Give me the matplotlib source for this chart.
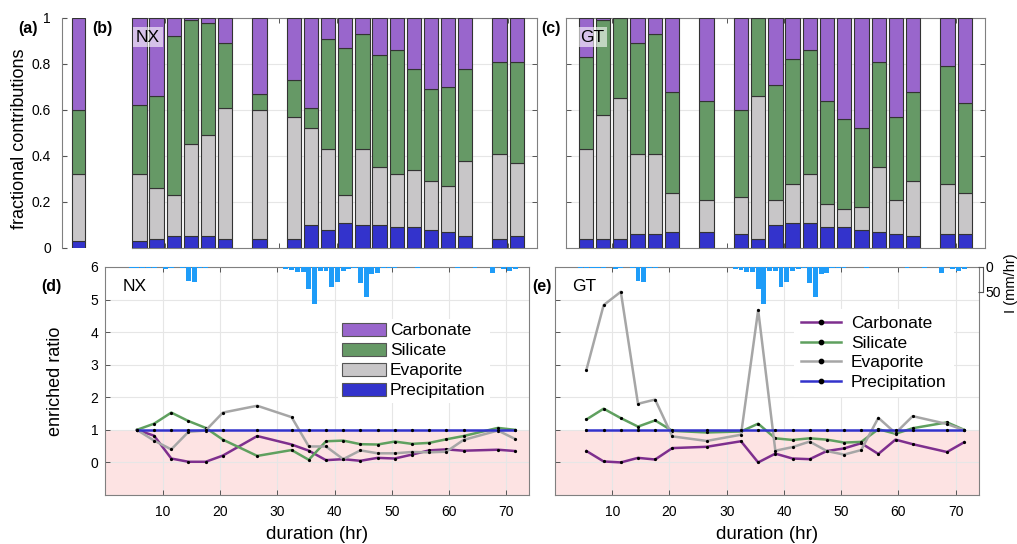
import matplotlib
matplotlib.use("Agg")
import matplotlib.pyplot as plt
import numpy as np
from matplotlib.patches import Patch

plt.rcParams['font.family'] = ['Liberation Sans', 'DejaVu Sans']

# ---------------- data ----------------
duration = [5.5, 8.5, 11.5, 14.5, 17.5, 20.5, 26.5, 32.5, 35.5, 38.5, 41.5,
            44.5, 47.5, 50.5, 53.5, 56.5, 59.5, 62.5, 68.5, 71.5]

# panel (a): single reference composition
a_prec, a_evap, a_sil, a_carb = 0.03, 0.29, 0.28, 0.40

# panel (b) NX fractional contributions
nx_prec = [0.03, 0.04, 0.05, 0.05, 0.05, 0.04, 0.04, 0.04, 0.10, 0.08, 0.11, 0.10, 0.10, 0.09, 0.09, 0.08, 0.07, 0.05, 0.04, 0.05]
nx_evap = [0.29, 0.22, 0.18, 0.40, 0.44, 0.57, 0.56, 0.53, 0.42, 0.35, 0.12, 0.33, 0.25, 0.23, 0.25, 0.21, 0.20, 0.33, 0.37, 0.32]
nx_sil = [0.30, 0.40, 0.69, 0.54, 0.49, 0.28, 0.07, 0.16, 0.09, 0.48, 0.64, 0.50, 0.49, 0.54, 0.44, 0.40, 0.43, 0.40, 0.40, 0.44]
nx_carb = [0.38, 0.34, 0.08, 0.01, 0.02, 0.11, 0.33, 0.27, 0.39, 0.09, 0.13, 0.07, 0.16, 0.14, 0.22, 0.31, 0.30, 0.22, 0.19, 0.19]

# panel (c) GT fractional contributions
gt_prec = [0.04, 0.04, 0.04, 0.06, 0.06, 0.07, 0.07, 0.06, 0.04, 0.10, 0.11, 0.11, 0.09, 0.09, 0.08, 0.07, 0.06, 0.05, 0.06, 0.06]
gt_evap = [0.39, 0.54, 0.61, 0.35, 0.35, 0.17, 0.14, 0.16, 0.62, 0.11, 0.17, 0.21, 0.10, 0.08, 0.10, 0.28, 0.15, 0.24, 0.22, 0.18]
gt_sil = [0.40, 0.41, 0.35, 0.48, 0.52, 0.44, 0.43, 0.38, 0.34, 0.50, 0.54, 0.54, 0.45, 0.39, 0.34, 0.46, 0.36, 0.39, 0.51, 0.39]
gt_carb = [0.17, 0.01, 0.00, 0.11, 0.07, 0.32, 0.36, 0.40, 0.00, 0.29, 0.18, 0.14, 0.36, 0.44, 0.48, 0.19, 0.43, 0.32, 0.21, 0.37]

# panel (d) NX enriched ratios
nx_r_carb = [1.00, 0.82, 0.12, 0.02, 0.02, 0.21, 0.81, 0.55, 0.36, 0.07, 0.10, 0.05, 0.14, 0.12, 0.24, 0.37, 0.40, 0.36, 0.39, 0.35]
nx_r_sil = [1.00, 1.19, 1.53, 1.27, 1.06, 0.70, 0.20, 0.38, 0.08, 0.65, 0.67, 0.56, 0.55, 0.64, 0.57, 0.60, 0.71, 0.81, 1.06, 1.00]
nx_r_evap = [1.00, 0.67, 0.40, 0.94, 0.98, 1.53, 1.74, 1.39, 0.49, 0.49, 0.10, 0.37, 0.28, 0.28, 0.32, 0.31, 0.33, 0.69, 0.98, 0.72]
nx_r_prec = [1.00] * 20

# panel (e) GT enriched ratios
gt_r_carb = [0.35, 0.03, 0.00, 0.14, 0.09, 0.44, 0.48, 0.65, 0.00, 0.27, 0.12, 0.10, 0.35, 0.43, 0.59, 0.26, 0.70, 0.56, 0.32, 0.62]
gt_r_sil = [1.32, 1.65, 1.36, 1.10, 1.29, 0.97, 0.92, 0.95, 1.19, 0.74, 0.69, 0.74, 0.70, 0.61, 0.63, 1.02, 0.88, 1.05, 1.23, 1.00]
gt_r_evap = [2.85, 4.83, 5.24, 1.80, 1.93, 0.80, 0.66, 0.85, 4.68, 0.36, 0.47, 0.64, 0.35, 0.24, 0.38, 1.37, 0.90, 1.42, 1.18, 0.99]
gt_r_prec = [1.00] * 20

# hourly rainfall intensity (mm/hr), hours 0..73
rain_hour = list(range(74))
rain = [0, 0, 0, 0, 2, 2, 2, 2, 2, 0,
        4, 3, 0, 3, 28, 30, 3, 2, 0, 0,
        0, 0, 0, 0, 0, 0, 0, 0, 1, 1,
        0, 4, 7, 11, 11, 45, 74, 8, 8, 40,
        31, 8, 5, 2, 33, 60, 14, 12, 3, 2,
        2, 1, 1, 1, 3, 1, 1, 1, 1, 1,
        0, 3, 0, 0, 3, 1, 0, 13, 0, 5,
        9, 5, 1, 0]

labels = ['Carbonate', 'Silicate', 'Evaporite', 'Precipitation']

# ---------------- styles ----------------
c_carb, c_sil, c_evap, c_prec = '#9966CC', '#669966', '#C8C6C8', '#3333CC'
l_carb, l_sil, l_evap, l_prec = '#7E2F8E', '#5FA05F', '#A6A6A6', '#3333CC'
c_rain = '#1E9CF8'
spine_c = '#808080'
grid_c = '#E6E6E6'
edge_c = '#333333'

W, H = 1017, 544
fig = plt.figure(figsize=(W / 100, H / 100), dpi=100)


def ax_at(l, t, r, b):
    return fig.add_axes([l / W, 1 - b / H, (r - l) / W, (b - t) / H])


def style_box(ax):
    for s in ax.spines.values():
        s.set_color(spine_c)
        s.set_linewidth(0.8)
    ax.tick_params(direction='in', length=3.5, width=0.7, color='#555555',
                   labelsize=10, top=True, right=True)


def stacked(ax, x, prec, evap, sil, carb, width):
    b = np.zeros(len(prec))
    for vals, col in [(prec, c_prec), (evap, c_evap), (sil, c_sil), (carb, c_carb)]:
        ax.bar(x, vals, width=width, bottom=b, color=col, edgecolor=edge_c,
               linewidth=0.8, zorder=3)
        b = b + np.array(vals)


def px_text(x, y, s, **kw):
    fig.text(x / W, 1 - y / H, s, ha='center', va='center', **kw)


# ---- panel (a)
axa = ax_at(62, 18, 95, 248)
stacked(axa, [0.5], [a_prec], [a_evap], [a_sil], [a_carb], 0.42)
axa.set_xlim(0, 1)
axa.set_ylim(0, 1)
for s in ['top', 'right', 'bottom']:
    axa.spines[s].set_visible(False)
axa.spines['left'].set_color(spine_c)
axa.tick_params(axis='y', direction='in', length=3.5, color='#555555',
                labelsize=10, pad=8)
axa.set_xticks([])
axa.set_yticks([0, 0.2, 0.4, 0.6, 0.8, 1.0])
axa.set_yticklabels(['0', '0.2', '0.4', '0.6', '0.8', '1'])

# ---- panels (b), (c)
for (l, r, xl), data in [((132.3, 536.7, 4.25), (nx_prec, nx_evap, nx_sil, nx_carb)),
                         ((565.7, 985.0, 2.0), (gt_prec, gt_evap, gt_sil, gt_carb))]:
    ax = ax_at(l, 18, r, 248)
    stacked(ax, duration, *data, width=2.5)
    ax.set_xlim(xl, 75)
    ax.set_ylim(0, 1)
    style_box(ax)
    ax.set_xticks(range(10, 80, 10))
    ax.set_yticks([0, 0.2, 0.4, 0.6, 0.8, 1.0])
    ax.set_xticklabels([])
    ax.set_yticklabels([])
    ax.grid(axis='y', color=grid_c, linewidth=0.8, zorder=0)
    ax.set_axisbelow(True)


def px_box_text(x, y, s):
    fig.text(x / W, 1 - y / H, s, ha='center', va='center', fontsize=12.5,
             bbox=dict(boxstyle='square,pad=0.15', facecolor='white', alpha=0.6,
                       edgecolor='none'), zorder=10)


px_box_text(148, 37, 'NX')
px_box_text(592.5, 37, 'GT')

# ---- panels (d), (e)
lower = [((105.4, 529.4), (nx_r_carb, nx_r_sil, nx_r_evap, nx_r_prec), 'NX', True),
         ((555.0, 978.5), (gt_r_carb, gt_r_sil, gt_r_evap, gt_r_prec), 'GT', False)]
for (l, r), ratios, name, first in lower:
    ax = ax_at(l, 267, r, 495)
    ax.set_xlim(0, 74)
    ax.set_ylim(-1, 6)
    ax.axhspan(-1, 1, color='#FDE3E3', zorder=0, linewidth=0)
    ax.grid(True, color=grid_c, linewidth=0.8, zorder=0.5)
    ax.set_axisbelow(True)
    style_box(ax)
    ax.tick_params(axis='x', pad=7)
    ax.tick_params(axis='y', pad=5)
    ax.set_xticks(range(10, 80, 10))
    ax.set_yticks(range(-1, 7))
    if first:
        ax.set_yticklabels(['', '0', '1', '2', '3', '4', '5', '6'])
    else:
        ax.set_yticklabels([])
    ax.set_xlabel('duration (hr)', fontsize=13.5, labelpad=5)
    handles = []
    for vals, col, lab in zip(ratios, [l_carb, l_sil, l_evap, l_prec], labels):
        h, = ax.plot(duration, vals, color=col, linewidth=1.8, marker='o',
                     markersize=1.3, markerfacecolor='black', markeredgecolor='black',
                     zorder=3, label=lab)
        handles.append(h)
    ax.text(0.068, 0.915, name, transform=ax.transAxes,
            fontsize=12.5, ha='center', va='center')
    # rain on inverted twin axis
    tw = ax.twinx()
    tw.bar([h_ + 0.5 for h_ in rain_hour], rain, width=0.85, color=c_rain,
           linewidth=0, zorder=2)
    tw.set_ylim(456, 0)
    tw.set_xlim(0, 74)
    for s in ['top', 'left', 'bottom']:
        tw.spines[s].set_visible(False)
    if first:
        tw.spines['right'].set_visible(False)
        tw.set_yticks([])
        leg_handles = [Patch(facecolor=c, edgecolor='#555555', linewidth=0.8)
                       for c in [c_carb, c_sil, c_evap, c_prec]]
        ax.legend(leg_handles, labels, loc='upper left',
                  bbox_to_anchor=((329 - l) / (r - l), (495 - 310) / 228),
                  fontsize=12.5, frameon=True, facecolor='white', edgecolor='none',
                  framealpha=1, handlelength=2.55, handleheight=0.75,
                  handletextpad=0.2, labelspacing=0.26, borderpad=0.25,
                  fancybox=False)
    else:
        tw.spines['right'].set_bounds(0, 50)
        tw.spines['right'].set_position(('outward', 3))
        tw.spines['right'].set_color('#555555')
        tw.set_yticks([0, 50])
        tw.tick_params(axis='y', direction='in', length=3.5, labelsize=10,
                       color='#555555', pad=2)
        leg = ax.legend(handles, labels, loc='upper left',
                        bbox_to_anchor=((785 - l) / (r - l), (495 - 300) / 228),
                        fontsize=12.5, frameon=True, facecolor='white', edgecolor='none',
                        framealpha=1, handlelength=2.35, handletextpad=0.55,
                        labelspacing=0.27, borderpad=0.4, fancybox=False,
                        markerscale=2.4)
        for lh in leg.get_lines():
            lh.set_linewidth(1.8)
    tw.set_zorder(ax.get_zorder() + 1)

# panel letters and axis labels
px_text(28, 28.5, '(a)', fontsize=11.5, fontweight='bold')
px_text(102.5, 28.5, '(b)', fontsize=11.5, fontweight='bold')
px_text(551, 28.5, '(c)', fontsize=11.5, fontweight='bold')
px_text(51, 286, '(d)', fontsize=11.5, fontweight='bold')
px_text(542, 286, '(e)', fontsize=11.5, fontweight='bold')
px_text(19.5, 139, 'fractional contributions', fontsize=13, rotation=90)
px_text(55, 381, 'enriched ratio', fontsize=13, rotation=90)
px_text(1011, 283, 'I (mm/hr)', fontsize=10.5, rotation=90)

fig.savefig('out.png', dpi=100)
